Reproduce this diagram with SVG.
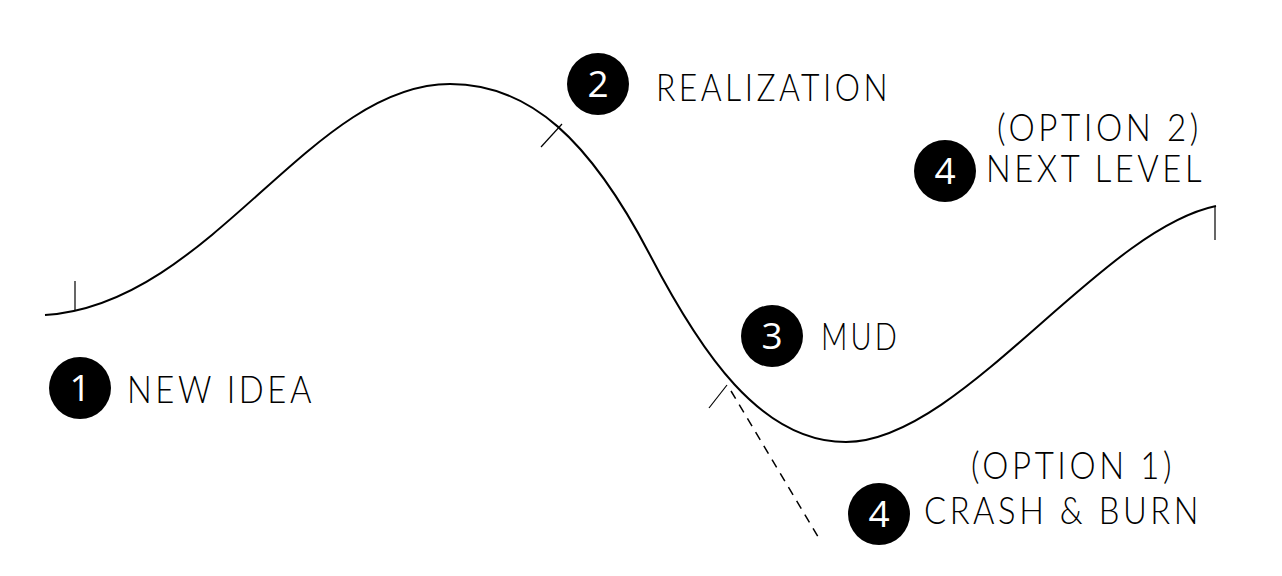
<svg xmlns="http://www.w3.org/2000/svg" width="1282" height="576" viewBox="0 0 1282 576">
<style>
.curve{fill:none;stroke:#000;stroke-width:2}
.tick{fill:none;stroke:#000;stroke-width:1.2}
.dash{fill:none;stroke:#000;stroke-width:1.5;stroke-dasharray:9 7}
.badge{fill:#000}
.num{fill:#fff;font-family:"Open Sans","DejaVu Sans",sans-serif;font-size:37px;text-anchor:middle}
.lbl{fill:#000;font-family:Lato,"Open Sans",sans-serif;font-weight:300;font-size:37px;letter-spacing:4px}
</style>
<rect width="1282" height="576" fill="#fff"/>
<g id="connectors">
<path class="curve" d="M45,315 C210,305 310,84 450,84 C530,84 590,140 650,255 C700,351 760,442 846,442 C960,442 1100,230 1216,206"/>
<line class="tick" x1="75" y1="281" x2="75" y2="311"/>
<line class="tick" x1="562" y1="124" x2="541" y2="147"/>
<line class="tick" x1="727" y1="385" x2="709" y2="408"/>
<line class="tick" x1="1215" y1="206" x2="1215" y2="240"/>
<line class="dash" x1="731" y1="391" x2="820" y2="540"/>
</g>
<g id="node1">
<circle class="badge" cx="80" cy="388" r="31"/>
<text class="num" x="80" y="401">1</text>
<text class="lbl" x="127" y="403" textLength="188" lengthAdjust="spacingAndGlyphs">NEW IDEA</text>
</g>
<g id="node2">
<circle class="badge" cx="598" cy="84" r="31"/>
<text class="num" x="598" y="97">2</text>
<text class="lbl" x="656" y="101" textLength="235" lengthAdjust="spacingAndGlyphs">REALIZATION</text>
</g>
<g id="node3">
<circle class="badge" cx="772" cy="336" r="31"/>
<text class="num" x="772" y="349">3</text>
<text class="lbl" x="821" y="350" textLength="79" lengthAdjust="spacingAndGlyphs">MUD</text>
</g>
<g id="node4a">
<circle class="badge" cx="945" cy="171" r="31"/>
<text class="num" x="945" y="184">4</text>
<text class="lbl" x="997" y="141" textLength="205" lengthAdjust="spacingAndGlyphs">(OPTION 2)</text>
<text class="lbl" x="986" y="182" textLength="219" lengthAdjust="spacingAndGlyphs">NEXT LEVEL</text>
</g>
<g id="node4b">
<circle class="badge" cx="879" cy="514" r="31"/>
<text class="num" x="879" y="527">4</text>
<text class="lbl" x="971" y="479" textLength="204" lengthAdjust="spacingAndGlyphs">(OPTION 1)</text>
<text class="lbl" x="924" y="524" textLength="278" lengthAdjust="spacingAndGlyphs">CRASH &amp; BURN</text>
</g>
</svg>
